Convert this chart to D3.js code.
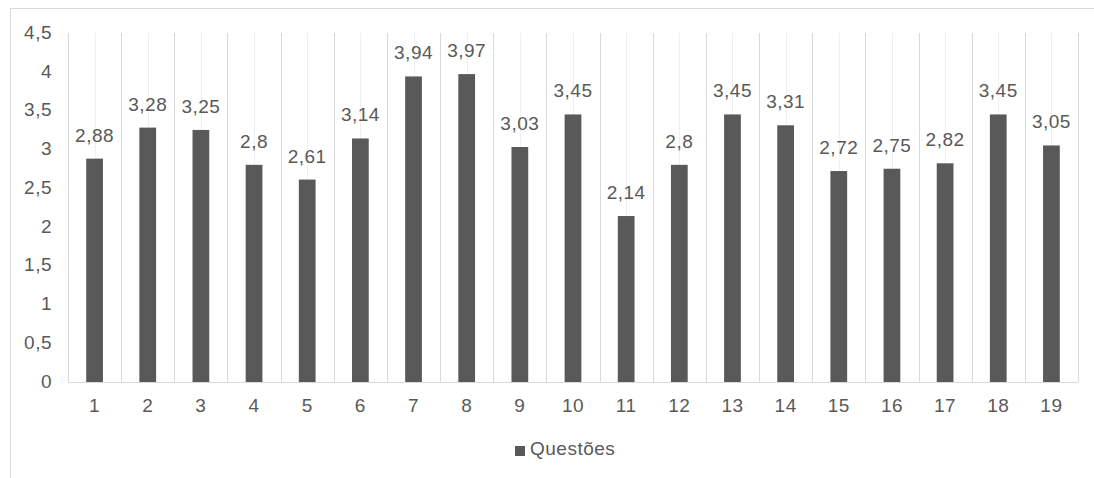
<!DOCTYPE html>
<html>
<head>
<meta charset="utf-8">
<script src="https://cdn.jsdelivr.net/npm/d3@7/dist/d3.min.js"></script>
<style>
  html, body { margin: 0; padding: 0; background: #ffffff; }
  svg { display: block; }
  text { font-family: "Liberation Sans", Arial, sans-serif; fill: #595959; letter-spacing: 0.5px; }
</style>
</head>
<body>
<svg id="chart" width="1094" height="478"></svg>
<script>
// Mean score per question
const categories = ["1","2","3","4","5","6","7","8","9","10","11","12","13","14","15","16","17","18","19"];
const values = [2.88, 3.28, 3.25, 2.8, 2.61, 3.14, 3.94, 3.97, 3.03, 3.45, 2.14, 2.8, 3.45, 3.31, 2.72, 2.75, 2.82, 3.45, 3.05];
const yTicks = [0, 0.5, 1, 1.5, 2, 2.5, 3, 3.5, 4, 4.5];
const seriesName = "Questões";

const svg = d3.select("#chart");
const fmt = v => String(v).replace(".", ",");
const FONT = "19px";

const plot = { left: 68, right: 1078, top: 33, bottom: 382 };

const x = d3.scaleBand().domain(categories).range([plot.left, plot.right]).paddingInner(0.685).paddingOuter(0.3425);
const xCell = d3.scaleBand().domain(categories).range([plot.left, plot.right]).padding(0);
const y = d3.scaleLinear().domain([0, 4.5]).range([plot.bottom, plot.top]);

// Chart area border
svg.append("rect")
  .attr("x", 10.5).attr("y", 8.5)
  .attr("width", 1200).attr("height", 600)
  .attr("fill", "#ffffff").attr("stroke", "#d9d9d9").attr("stroke-width", 1);

// Minor vertical gridlines at category centres
svg.append("g").selectAll("line").data(categories).join("line")
  .attr("x1", d => Math.round(xCell(d) + xCell.bandwidth() / 2) + 0.5)
  .attr("x2", d => Math.round(xCell(d) + xCell.bandwidth() / 2) + 0.5)
  .attr("y1", y(4.5)).attr("y2", y(0))
  .attr("stroke", "#efefef").attr("stroke-width", 1);

// Major vertical gridlines at category boundaries
const bounds = categories.map(d => xCell(d)).concat([plot.right]);
svg.append("g").selectAll("line").data(bounds).join("line")
  .attr("x1", d => Math.round(d) + 0.5).attr("x2", d => Math.round(d) + 0.5)
  .attr("y1", y(4.5)).attr("y2", y(0))
  .attr("stroke", "#d9d9d9").attr("stroke-width", 1);

// Bars
svg.append("g").selectAll("rect").data(values).join("rect")
  .attr("x", (d, i) => x(categories[i]))
  .attr("width", x.bandwidth())
  .attr("y", d => y(d))
  .attr("height", d => y(0) - y(d))
  .attr("fill", "#595959");

// Baseline
svg.append("line")
  .attr("x1", plot.left).attr("x2", plot.right)
  .attr("y1", y(0) + 0.5).attr("y2", y(0) + 0.5)
  .attr("stroke", "#d9d9d9").attr("stroke-width", 1);

// Value labels
svg.append("g").selectAll("text").data(values).join("text")
  .attr("x", (d, i) => x(categories[i]) + x.bandwidth() / 2)
  .attr("y", d => y(d) - 17)
  .attr("text-anchor", "middle")
  .attr("font-size", FONT)
  .text(d => fmt(d));

// Y axis
const yAxis = d3.axisLeft(y).tickValues(yTicks).tickSize(0).tickPadding(0).tickFormat(fmt);
const gy = svg.append("g").attr("transform", "translate(52,0)").call(yAxis);
gy.select(".domain").remove();
gy.selectAll("text")
  .attr("font-size", FONT)
  .attr("font-family", "Liberation Sans, Arial, sans-serif")
  .attr("fill", "#595959")
  .attr("dy", "0.28em");

// X axis
const xAxis = d3.axisBottom(xCell).tickSize(0).tickPadding(0);
const gx = svg.append("g").attr("transform", `translate(0,${plot.bottom})`).call(xAxis);
gx.select(".domain").remove();
gx.selectAll("text")
  .attr("font-size", FONT)
  .attr("font-family", "Liberation Sans, Arial, sans-serif")
  .attr("fill", "#595959")
  .attr("dy", null)
  .attr("y", 30);

// Legend
const legend = svg.append("g");
legend.append("rect").attr("x", 515).attr("y", 446).attr("width", 10).attr("height", 10).attr("fill", "#595959");
legend.append("text").attr("x", 530).attr("y", 455).attr("font-size", FONT).text(seriesName);
</script>
</body>
</html>
